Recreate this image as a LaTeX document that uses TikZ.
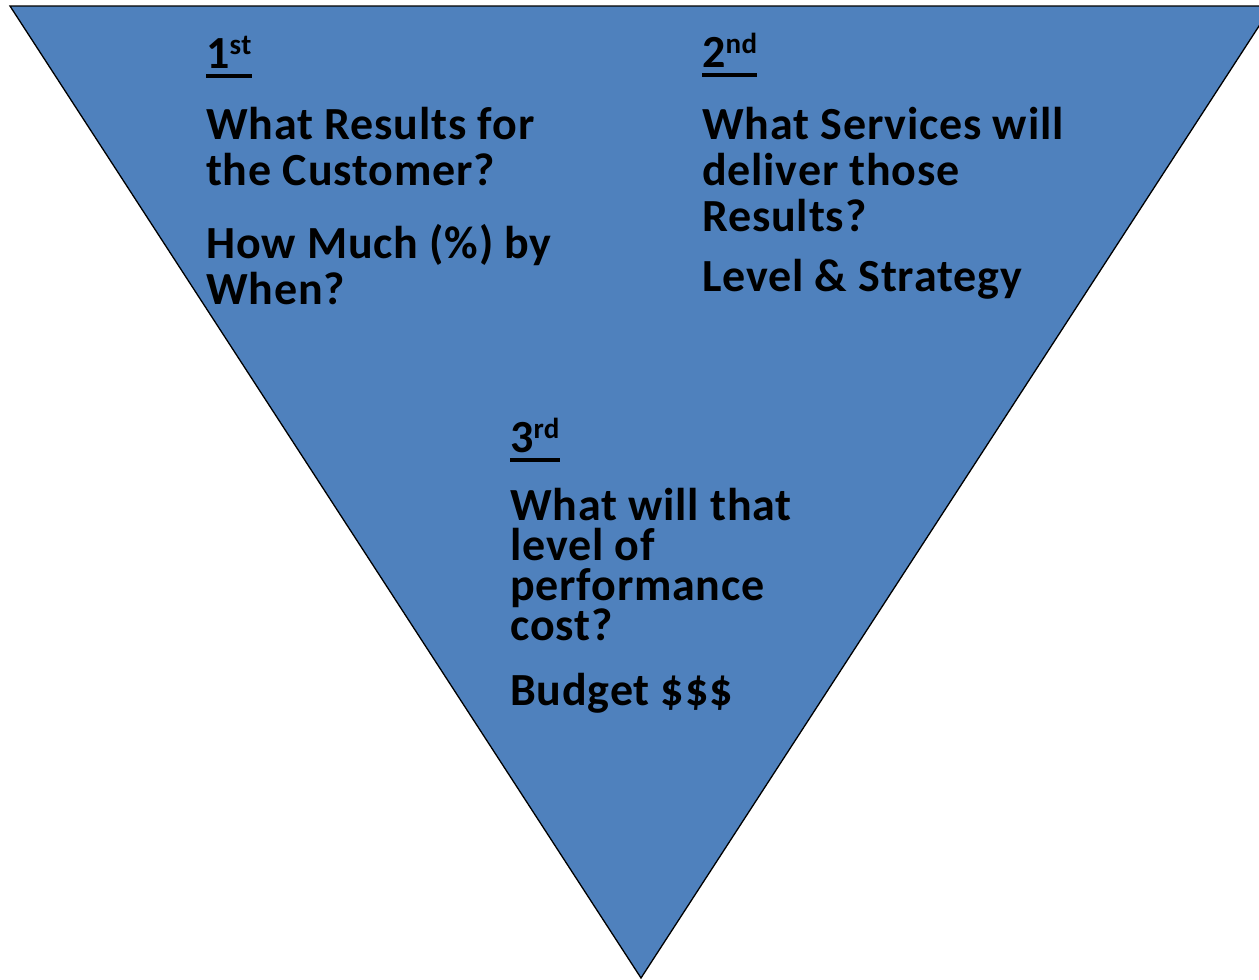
\documentclass[tikz,border=0pt]{standalone}
\usepackage{fontspec}
\setmainfont{Carlito}[LetterSpace=1.8]
\usetikzlibrary{positioning}
\definecolor{funnelblue}{RGB}{79,129,189}
\tikzset{funnel/.style={fill=funnelblue,draw=black,line width=1.3pt}}
\tikzset{qtext/.style={font=\bfseries\fontsize{46}{46}\selectfont,align=left,inner sep=0pt,anchor=base west}}
\tikzset{tight/.style={font=\bfseries\fontsize{46}{40}\selectfont}}
\tikzset{uline/.style={line width=3.5pt}}
\newcommand{\ord}[2]{#1\raisebox{14pt}{\fontsize{29}{29}\selectfont #2}}

\begin{document}
\begin{tikzpicture}[x=1pt,y=-1pt]
  \useasboundingbox (0,0) rectangle (1259,980);
  \begin{scope}
    \clip (0,0) rectangle (1259,980);
    \draw[funnel] (10,6) -- (1272,6) -- (641,978) -- cycle;
  \end{scope}
  % 1st
  \node[qtext] (first) at (206,68) {\ord{1}{st}};
  \draw[uline] ([yshift=-8pt]first.base west) -- ([yshift=-8pt]first.base east);
  \node[qtext] (results) at (206,185) {What Results for\\the Customer?};
  \node[qtext] (howmuch) at (206,304) {How Much (\%) by\\When?};
  % 2nd
  \node[qtext] (second) at (702,67) {\ord{2}{nd}};
  \draw[uline] ([yshift=-8pt]second.base west) -- ([yshift=-8pt]second.base east);
  \node[qtext] (services) at (702,231) {What Services will\\deliver those\\Results?};
  \node[qtext] (level) at (702,291) {Level \& Strategy};
  % 3rd
  \node[qtext] (third) at (510,452) {\ord{3}{rd}};
  \draw[uline] ([yshift=-8pt]third.base west) -- ([yshift=-8pt]third.base east);
  \node[qtext,tight] (cost) at (510,640) {What will that\\level of\\performance\\cost?};
  \node[qtext] (budget) at (510,705) {Budget \$\$\$};
\end{tikzpicture}
\end{document}
